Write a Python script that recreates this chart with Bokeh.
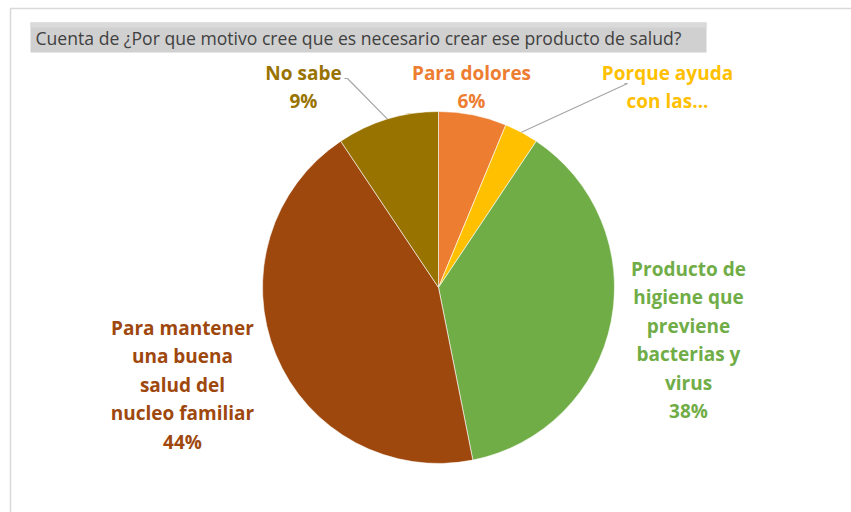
import numpy as np
from bokeh.plotting import figure
from bokeh.models import Range1d
from bokeh.embed import file_html
from bokeh.resources import INLINE
from bokeh.core.properties import value

# ---- data ----
title_text = "Cuenta de ¿Por que motivo cree que es necesario crear ese producto de salud?"
categories = [
    "Para dolores",
    "Porque ayuda con las...",
    "Producto de higiene que previene bacterias y virus",
    "Para mantener una buena salud del nucleo familiar",
    "No sabe",
]
counts = [2, 1, 12, 14, 3]
label_lines = [
    ["Para dolores"],
    ["Porque ayuda", "con las..."],
    ["Producto de", "higiene que", "previene", "bacterias y", "virus"],
    ["Para mantener", "una buena", "salud del", "nucleo familiar"],
    ["No sabe"],
]
show_pct = [True, False, True, True, True]
colors = ["#ED7D31", "#FFC000", "#70AD47", "#9E480E", "#997300"]

# ---- layout (pixels, y down) ----
W, H = 851, 512
CX, CY, R = 438, 287, 176
label_anchor = [(471, 72), (667, 72), (688, 268), (182, 327), (303, 72)]
line_step = 28.5
leader_start = [None, (627, 83), None, None, (347, 78)]

def fy(y):
    return H - y

p = figure(width=W, height=H, output_backend="svg", toolbar_location=None,
           x_range=Range1d(0, W), y_range=Range1d(0, H),
           x_axis_location=None, y_axis_location=None, min_border=0)
p.grid.visible = False
p.outline_line_color = None
p.background_fill_color = "white"
p.border_fill_color = "white"

# chart border
p.line([10, 10, W], [fy(H), fy(8), fy(8)], line_color="#d9d9d9", line_width=1.5)

# title box
p.quad(left=30, right=706, top=fy(22), bottom=fy(52), fill_color="#d0d0d0", line_color=None)
p.quad(left=30, right=706, top=fy(22), bottom=fy(27), fill_color="#dadada", line_color=None)
p.text(x=[35], y=[fy(37)], text=[title_text], text_font=value("Open Sans"), text_font_size="17.6px",
       text_color="#404040", text_baseline="middle", text_align="left")

# pie
total = float(sum(counts))
fr = np.array(counts) / total
cum = np.cumsum(fr)
prev = np.concatenate([[0.0], cum[:-1]])
start = np.pi / 2 - 2 * np.pi * prev
end = np.pi / 2 - 2 * np.pi * cum
p.wedge(x=CX, y=fy(CY), radius=R, start_angle=start, end_angle=end, direction="clock",
        fill_color=colors, line_color="white", line_width=0.6)

# leader lines
mid = np.pi / 2 - 2 * np.pi * (prev + fr / 2)
for i, ls in enumerate(leader_start):
    if ls is None:
        continue
    ex = CX + R * np.cos(mid[i])
    ey = fy(CY) + R * np.sin(mid[i])
    p.line([ls[0] - 3, ls[0], ex], [fy(ls[1]), fy(ls[1]), ey], line_color="#a6a6a6", line_width=1.2)

# labels
xs, ys, ts, cs = [], [], [], []
for i, lines in enumerate(label_lines):
    lines = list(lines)
    if show_pct[i]:
        lines.append(f"{round(100 * fr[i]):.0f}%")
    ax, ay = label_anchor[i]
    for k, t in enumerate(lines):
        xs.append(ax)
        ys.append(fy(ay + k * line_step))
        ts.append(t)
        cs.append(colors[i])
p.text(x=xs, y=ys, text=ts, text_color=cs, text_font=value("Open Sans"), text_font_size="19px",
       text_font_style="bold", text_align="center", text_baseline="middle")

open("out.html", "w").write(file_html(p, INLINE))
